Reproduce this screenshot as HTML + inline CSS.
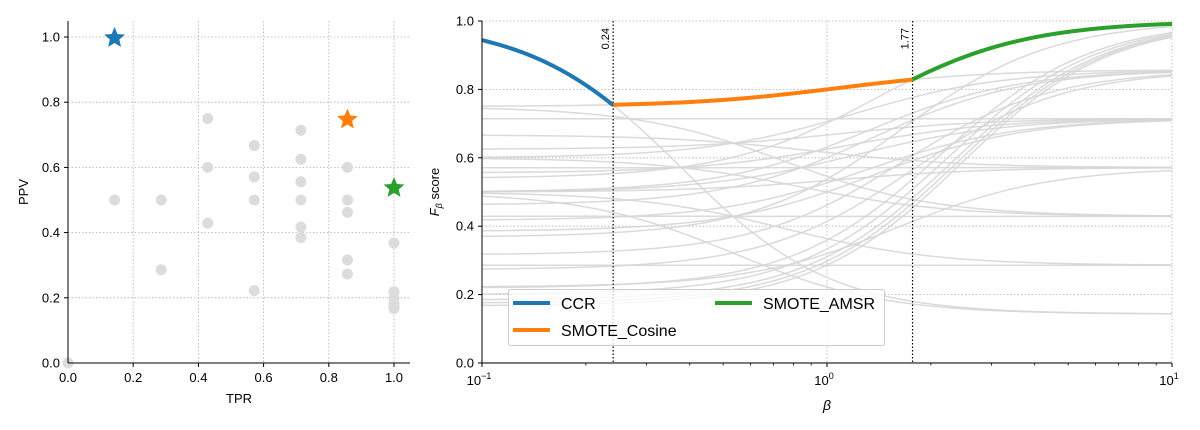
<!DOCTYPE html>
<html><head><meta charset="utf-8"><style>
body{margin:0;background:#fff;}
svg{display:block;font-family:"Liberation Sans","DejaVu Sans",sans-serif;}
</style></head><body>
<svg id="chart" width="1200" height="430"></svg>
<script>
const tprValues=[1/7,2/7,2/7,3/7,3/7,3/7,4/7,4/7,4/7,4/7,5/7,5/7,5/7,5/7,5/7,5/7,6/7,6/7,6/7,6/7,6/7,1,1,1,1,1,1,0];
const ppvValues=[0.5,0.5,0.286,0.75,0.6,0.429,0.667,0.571,0.5,0.222,0.714,0.625,0.556,0.5,0.417,0.385,0.6,0.5,0.462,0.316,0.273,0.368,0.219,0.2,0.184,0.175,0.167,0];
const bestNames=["CCR","SMOTE_Cosine","SMOTE_AMSR"];
const bestTpr=[1/7,6/7,1];
const bestPpv=[1,0.75,0.54];
const bestColors=["#1f77b4","#ff7f0e","#2ca02c"];
const crossovers=[0.24,1.77];
const xTicksLeft=[0,0.2,0.4,0.6,0.8,1.0];
const yTicks=[0,0.2,0.4,0.6,0.8,1.0];

const NS="http://www.w3.org/2000/svg";
const svg=document.getElementById('chart');
function el(tag,attrs,parent){const e=document.createElementNS(NS,tag);for(const k in attrs)e.setAttribute(k,attrs[k]);(parent||svg).appendChild(e);return e;}
function txt(s,attrs,parent){const t=el('text',attrs,parent);t.textContent=s;return t;}

const lx=v=>68+v*326, ly=v=>363-v*326;
const rx=b=>482+(Math.log10(b)+1)*345, ry=v=>363-v*342;

const gL=el('g',{});

xTicksLeft.forEach(t=>{
 const g=el('line',{x1:lx(t),x2:lx(t),y1:21,y2:363,stroke:'#b0b0b0','stroke-width':0.8,'stroke-dasharray':'1.5,2'},gL);
 
 el('line',{x1:lx(t),x2:lx(t),y1:363,y2:367,stroke:'#000'},gL);
 const l=txt(t.toFixed(1),{x:lx(t),y:382,'text-anchor':'middle','font-size':13},gL);
 
});
yTicks.forEach(t=>{
 const g=el('line',{x1:68,x2:410,y1:ly(t),y2:ly(t),stroke:'#b0b0b0','stroke-width':0.8,'stroke-dasharray':'1.5,2'},gL);
 
 el('line',{x1:64,x2:68,y1:ly(t),y2:ly(t),stroke:'#000'},gL);
 const l=txt(t.toFixed(1),{x:60,y:ly(t)+4.5,'text-anchor':'end','font-size':13},gL);
 
});
tprValues.forEach((r,i)=>{
 const c=el('circle',{cx:lx(r),cy:ly(ppvValues[i]),r:5.5,fill:'#dcdcdc'},gL);
 
});
function star(cx,cy,R,color,parent){
 let p='';for(let k=0;k<10;k++){const a=-Math.PI/2+k*Math.PI/5;const rr=k%2?R*0.45:R;p+=(k?'L':'M')+(cx+rr*Math.cos(a)).toFixed(2)+','+(cy+rr*Math.sin(a)).toFixed(2);}
 return el('path',{d:p+'Z',fill:color},parent);
}
bestTpr.forEach((r,i)=>{
 const s=star(lx(r),ly(bestPpv[i])+1,11,bestColors[i],gL);
 
});
el('line',{x1:68,x2:68,y1:21,y2:363,stroke:'#000','stroke-width':1},gL);
el('line',{x1:68,x2:410,y1:363,y2:363,stroke:'#000','stroke-width':1},gL);
let t=txt('TPR',{x:239,y:403,'text-anchor':'middle','font-size':13},gL);

t=txt('PPV',{x:28,y:192,'text-anchor':'middle','font-size':13,transform:'rotate(-90 28 192)'},gL);


const gR=el('g',{});

const clip=el('clipPath',{id:'cr'});el('rect',{x:482,y:21,width:690,height:342},clip);
[0.1,1,10].forEach(b=>{
 const g=el('line',{x1:rx(b),x2:rx(b),y1:21,y2:363,stroke:'#b0b0b0','stroke-width':0.8,'stroke-dasharray':'1.5,2'},gR);
 
 el('line',{x1:rx(b),x2:rx(b),y1:363,y2:367,stroke:'#000'},gR);
 const e=Math.round(Math.log10(b));
 const l=txt('10',{x:rx(b)-3,y:385,'text-anchor':'middle','font-size':13},gR);
 const s=el('tspan',{dy:-6,'font-size':9},l);s.textContent=String(e).replace('-','−');
 
});
for(let d=-1;d<1;d++)for(let m=2;m<10;m++){const b=m*Math.pow(10,d);el('line',{x1:rx(b),x2:rx(b),y1:363,y2:365.5,stroke:'#000','stroke-width':0.8},gR);}
yTicks.forEach(v=>{
 const g=el('line',{x1:482,x2:1172,y1:ry(v),y2:ry(v),stroke:'#b0b0b0','stroke-width':0.8,'stroke-dasharray':'1.5,2'},gR);
 
 el('line',{x1:478,x2:482,y1:ry(v),y2:ry(v),stroke:'#000'},gR);
 const l=txt(v.toFixed(1),{x:474,y:ry(v)+4.5,'text-anchor':'end','font-size':13},gR);
 
});
function fb(P,R,b){const b2=b*b;const d=b2*P+R;return d>0?(1+b2)*P*R/d:0;}
function curvePath(P,R,b0,b1){let p='';const N=120;for(let k=0;k<=N;k++){const lb=Math.log10(b0)+(Math.log10(b1)-Math.log10(b0))*k/N;const b=Math.pow(10,lb);p+=(k?'L':'M')+rx(b).toFixed(2)+','+ry(fb(P,R,b)).toFixed(2);}return p;}
const gc=el('g',{'clip-path':'url(#cr)'},gR);
tprValues.concat(bestTpr).forEach((r,i)=>{
 const P=i<tprValues.length?ppvValues[i]:bestPpv[i-tprValues.length];
 const c=el('path',{d:curvePath(P,r,0.1,10),fill:'none',stroke:'#d6d6d6','stroke-width':1.5,opacity:0.9},gc);
 
});
crossovers.forEach(b=>{
 const l=el('line',{x1:rx(b),x2:rx(b),y1:21,y2:363,stroke:'#000','stroke-width':1.2,'stroke-dasharray':'1.5,2'},gR);
 
 const x=rx(b)-4,y=28;
 const tl=txt(b.toFixed(2),{x:x,y:y,'text-anchor':'end','font-size':11,transform:`rotate(-90 ${x} ${y})`},gR);
 
});
const bounds=[0.1].concat(crossovers,[10]);
bestTpr.forEach((r,i)=>{
 const c=el('path',{d:curvePath(bestPpv[i],r,bounds[i],bounds[i+1]),fill:'none',stroke:bestColors[i],'stroke-width':4,'stroke-linecap':'butt'},gR);
 
});
el('line',{x1:482,x2:482,y1:21,y2:363,stroke:'#000'},gR);
el('line',{x1:482,x2:1172,y1:363,y2:363,stroke:'#000'},gR);
t=txt('β',{x:827,y:410,'text-anchor':'middle','font-size':14,'font-style':'italic'},gR);

t=txt('',{x:439,y:192,'text-anchor':'middle','font-size':13,transform:'rotate(-90 439 192)'},gR);
t.innerHTML='<tspan font-style="italic">F</tspan><tspan font-style="italic" font-size="9" dy="3">β</tspan><tspan dy="-3"> score</tspan>';


const lg=el('g',{});

el('rect',{x:508.5,y:289.5,width:376,height:56,rx:2,fill:'#fff','fill-opacity':0.8,stroke:'#ccc'},lg);
const legPos=[[513,303],[513,330],[715,303]];
bestNames.forEach((n,i)=>{
 const [x,y]=legPos[i];
 const e=el('g',{},lg);
 
 el('line',{x1:x,x2:x+37,y1:y,y2:y,stroke:bestColors[i],'stroke-width':4},e);
 txt(n,{x:x+48,y:y+6,'font-size':16},e);
});
</script>
</body></html>
